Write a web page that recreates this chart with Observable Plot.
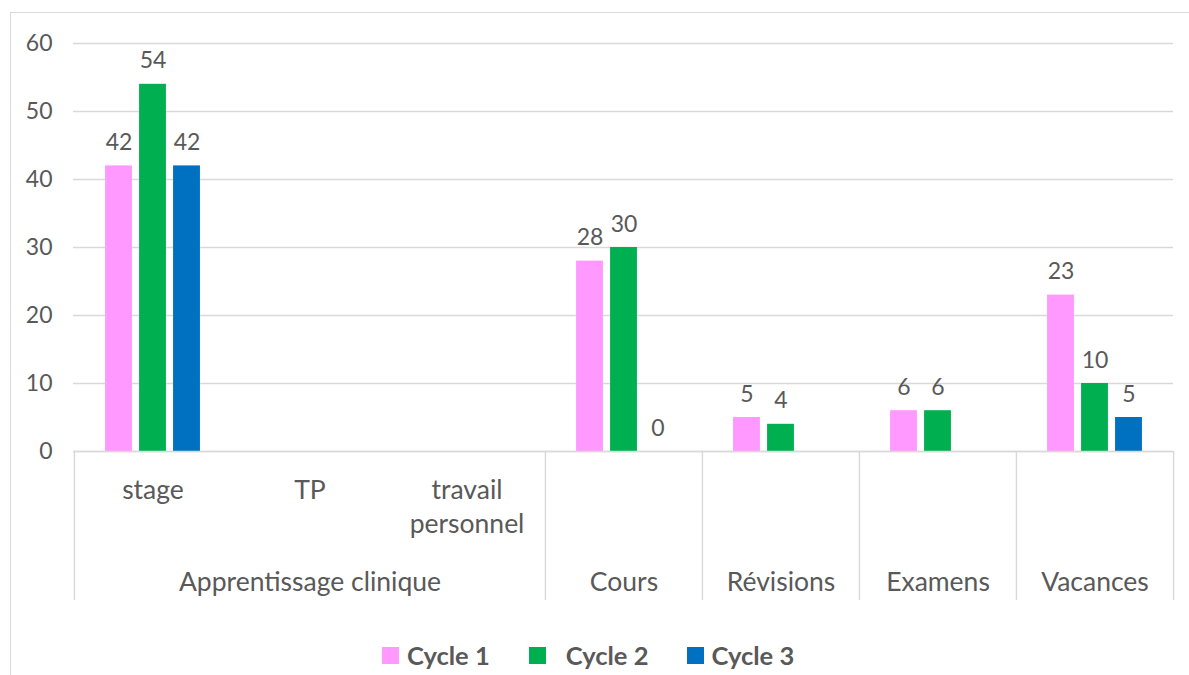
<!DOCTYPE html>
<html><head><meta charset="utf-8">
<script src="https://cdn.jsdelivr.net/npm/d3@7"></script>
<script src="https://cdn.jsdelivr.net/npm/@observablehq/plot@0.6"></script>
<style>
body{margin:0;background:#fff;overflow:hidden;font-family:Lato,sans-serif;}
#wrap{position:relative;width:1189px;height:675px;overflow:hidden;background:#fff;}
#frame{position:absolute;left:10px;top:12px;width:1300px;height:800px;border:1.5px solid #d9d9d9;box-sizing:border-box;}
#chart{position:absolute;left:0;top:0;}
#legend{position:absolute;left:382px;top:640px;height:30px;display:flex;align-items:center;font-family:Lato,sans-serif;font-weight:bold;font-size:25.5px;color:#595959;}
.item{display:flex;align-items:center;}
.sw{width:17px;height:17px;display:inline-block;}
</style></head>
<body>
<div id="wrap"><div id="frame"></div><div id="chart"></div><div id="legend"></div></div>
<script>
const categories = ["stage","TP","travail personnel","Cours","Révisions","Examens","Vacances"];
const subLabels = ["stage","TP","travail\npersonnel","","","",""];
const groupOf = ["Apprentissage clinique","Apprentissage clinique","Apprentissage clinique","Cours","Révisions","Examens","Vacances"];
const series = ["Cycle 1","Cycle 2","Cycle 3"];
const cycle1 = [42,null,null,28,5,6,23];
const cycle2 = [54,null,null,30,4,6,10];
const cycle3 = [42,null,null,0,null,null,5];
const colors = ["#FF99FF","#00B050","#0070C0"];
const yTicks = [0,10,20,30,40,50,60];

const W = 1189, H = 630, mL = 73, mR = 16, mT = 43, mB = 179;
const bw = (W - mL - mR) / categories.length;
const barW = 27, step = 34;
const valuesBySeries = [cycle1, cycle2, cycle3];
const rows = [];
series.forEach((s, i) => categories.forEach((c, j) => {
  const v = valuesBySeries[i][j];
  if (v != null) rows.push({series: s, si: i, cat: c, value: v});
}));
const groups = [...new Set(groupOf)];
const groupMid = groups.map(g => {
  const idx = categories.filter((c, j) => groupOf[j] === g);
  return {group: g, cat: idx[Math.floor(idx.length / 2)], first: idx[0]};
});
const subRows = categories.map((c, j) => ({cat: c, label: subLabels[j]})).filter(d => d.label);
const textColor = "#595959";
const fs = 26.5, numFs = 23;

const marks = [
  Plot.gridY(yTicks, {stroke: "#d9d9d9", strokeOpacity: 1, strokeWidth: 1.4}),
  Plot.axisY(yTicks, {tickSize: 0, tickPadding: 21, fontSize: numFs, fill: textColor, label: null}),
];
series.forEach((s, i) => {
  const d = rows.filter(r => r.si === i);
  marks.push(Plot.barY(d, {x: "cat", y: "value", fill: "series", insetLeft: (bw - barW) / 2, insetRight: (bw - barW) / 2, dx: (i - 1) * step}));
  marks.push(Plot.text(d, {x: "cat", y: "value", text: r => String(r.value), dx: (i - 1) * step, dy: -16, lineAnchor: "bottom", fontSize: numFs, fill: textColor}));
});
marks.push(Plot.ruleY([0], {stroke: "#d9d9d9", strokeWidth: 1.4}));
marks.push(Plot.ruleX(groupMid.map(g => g.first), {dx: -bw / 2, insetTop: H - mT - mB, insetBottom: -149, stroke: "#d9d9d9", strokeWidth: 1.4}));
marks.push(Plot.ruleX([categories[categories.length - 1]], {dx: bw / 2, insetTop: H - mT - mB, insetBottom: -149, stroke: "#d9d9d9", strokeWidth: 1.4}));
marks.push(Plot.text(subRows, {x: "cat", text: "label", frameAnchor: "bottom", lineAnchor: "top", dy: 23, lineHeight: 1.28, fontSize: fs, fill: textColor}));
marks.push(Plot.text(groupMid, {x: "cat", text: "group", frameAnchor: "bottom", lineAnchor: "top", dy: 121, fontSize: fs, fill: textColor}));

const chart = Plot.plot({
  width: W, height: H, marginLeft: mL, marginRight: mR, marginTop: mT, marginBottom: mB,
  style: {fontFamily: "Lato, sans-serif", fontSize: fs + "px", color: textColor, background: "transparent", overflow: "visible"},
  x: {domain: categories, padding: 0, axis: null},
  y: {domain: [0, 60], axis: null},
  color: {domain: series, range: colors},
  marks
});
document.getElementById("chart").appendChild(chart);

const legend = document.getElementById("legend");
const gaps = [[8, 39], [20, 39], [7, 0]];
series.forEach((s, i) => {
  const it = document.createElement("div");
  it.className = "item";
  it.style.marginRight = gaps[i][1] + "px";
  const sw = document.createElement("span");
  sw.className = "sw";
  sw.style.background = colors[i];
  sw.style.marginRight = gaps[i][0] + "px";
  const t = document.createElement("span");
  t.textContent = s;
  it.appendChild(sw); it.appendChild(t);
  legend.appendChild(it);
});
</script>
</body></html>
